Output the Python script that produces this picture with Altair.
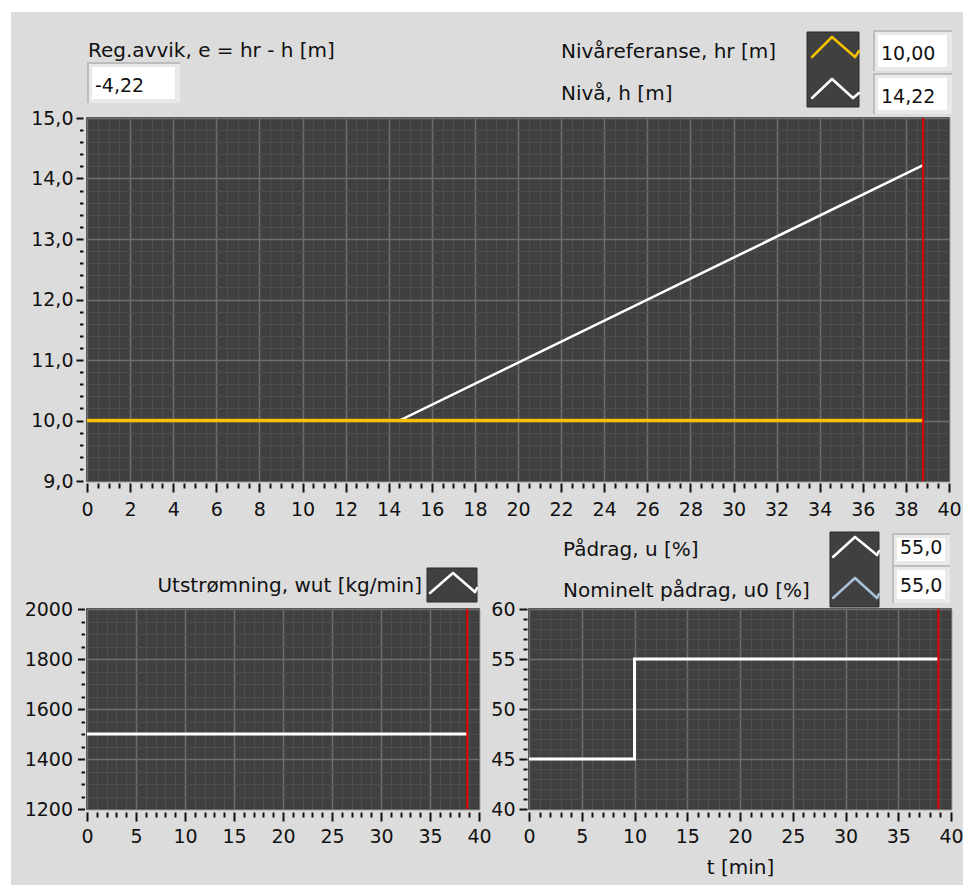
import altair as alt
import pandas as pd
import numpy as np

FONT = "DejaVu Sans"
INK = "#111111"
PANEL = "#dcdcdc"
PLOT_BG = "#404040"
GRID_MAJOR = "#6e6e6e"
GRID_MINOR = "#4e4e4e"
YELLOW = "#f7c000"
CURSOR = "#e80000"
U0_BLUE = "#a9c1d9"

# Level control simulation, time in minutes
t_level = [0.0, 14.5, 38.8]
level = [10.0, 10.0, 14.22]          # h [m]
t_ref = [0.0, 38.8]
level_ref = [10.0, 10.0]             # hr [m]
t_out = [0.0, 38.8]
outflow = [1500.0, 1500.0]           # wut [kg/min]
t_ctrl = [0.0, 10.0, 38.8]
control = [45.0, 55.0, 55.0]         # u [%]
control_nominal = 55.0               # u0 [%]
t_now = 38.8                         # current simulation time (cursor)

error_now = level_ref[-1] - level[-1]


def no(v, d):
    return f"{v:.{d}f}".replace(".", ",")


one = pd.DataFrame({"k": [0]})


def rect(x, x2, y, y2, fill, stroke=None, sw=1.0):
    kw = dict(fill=fill)
    if stroke:
        kw.update(stroke=stroke, strokeWidth=sw)
    return alt.Chart(one).mark_rect(**kw).encode(
        x=alt.value(x), x2=alt.value(x2), y=alt.value(y), y2=alt.value(y2))


def text(s, x, y, align="left", size=20):
    return alt.Chart(one).mark_text(
        text=s, align=align, baseline="alphabetic", font=FONT,
        fontSize=size, color=INK).encode(x=alt.value(x), y=alt.value(y))


def zigzag(pts, color, width=2.5):
    out = []
    for (x1, y1), (x2, y2) in zip(pts[:-1], pts[1:]):
        out.append(alt.Chart(one).mark_rule(
            color=color, strokeWidth=width, strokeCap="round").encode(
            x=alt.value(x1), y=alt.value(y1), x2=alt.value(x2), y2=alt.value(y2)))
    return out


def indicator(x, x2, y, y2, s):
    return [
        rect(x, x2, y, y2, "#bdbdbd"),
        rect(x + 2, x2, y + 2, y2, "#e9e9e9"),
        rect(x + 5, x2 - 5, y + 5, y2 - 4, "white"),
        text(s, x + 8, y2 - 11, size=19),
    ]


def axis(values, every, fmt, offset, tmaj, tmin, pad, title=None):
    test = f"(abs(datum.value / {every} - round(datum.value / {every})) < 0.001)"

    def cond(a, b):
        return {"condition": {"test": test, "value": a}, "value": b}

    return alt.Axis(
        values=values, grid=True,
        gridColor=cond(GRID_MAJOR, GRID_MINOR), gridWidth=cond(1.5, 1),
        tickSize=cond(tmaj, tmin), tickColor=INK, tickWidth=2,
        labelExpr=f"{test} ? replace(format(datum.value, '{fmt}'), '.', ',') : ''",
        labelOverlap=False, labelFlush=False, offset=offset,
        labelPadding=pad, domain=False, title=title)


def steps(a, b, s):
    return [round(v, 3) for v in np.arange(a, b + s / 2, s)]


def series(t, v, scale_x, scale_y, ax_x, ax_y, **mark):
    return alt.Chart(pd.DataFrame({"t": t, "v": v})).mark_line(**mark).encode(
        x=alt.X("t:Q", scale=scale_x, axis=ax_x),
        y=alt.Y("v:Q", scale=scale_y, axis=ax_y))


def cursor(scale_x, ax_x):
    return alt.Chart(pd.DataFrame({"t": [t_now]})).mark_rule(
        color=CURSOR, strokeWidth=2).encode(x=alt.X("t:Q", scale=scale_x, axis=ax_x))


# ---------------- level chart ----------------
W_TOP, H_TOP = 862, 363
xs_top = alt.Scale(domain=[0, 40], nice=False, zero=False)
ys_top = alt.Scale(domain=[9, 15], nice=False, zero=False)
ax_x_top = axis(steps(0, 40, 0.5), 2, "d", 2, 9, 5, 8)
ax_y_top = axis(steps(9, 15, 0.2), 1, ".1f", 4, 7, 3.5, 3)

level_line = series(t_level, level, xs_top, ys_top, ax_x_top, ax_y_top,
                    color="white", strokeWidth=2.5)
ref_line = series(t_ref, level_ref, xs_top, ys_top, ax_x_top, ax_y_top,
                  color=YELLOW, strokeWidth=3.5)
cursor_top = cursor(xs_top, ax_x_top)

top_deco = [
    text("Reg.avvik, e = hr - h [m]", 1, -61),
    *indicator(0, 93, -56, -15, no(error_now, 2)),
    text("Nivåreferanse, hr [m]", 474, -60),
    text("Nivå, h [m]", 474, -18),
    rect(720, 772, -86, -11, PLOT_BG, "#2a2a2a", 1),
    *zigzag([(725, -61), (745, -81), (768, -61), (772, -67)], YELLOW),
    *zigzag([(725, -20), (745, -39), (766, -20), (772, -25)], "white"),
    *indicator(786, 865, -88, -47, no(level_ref[-1], 2)),
    *indicator(786, 865, -45, -4, no(level[-1], 2)),
]

top = alt.layer(level_line, ref_line, cursor_top, *top_deco).properties(
    width=W_TOP, height=H_TOP)

# ---------------- outflow chart ----------------
W_BL, H_B = 392, 200
xs_bl = alt.Scale(domain=[0, 40], nice=False, zero=False)
ys_bl = alt.Scale(domain=[1200, 2000], nice=False, zero=False)
ax_x_bl = axis(steps(0, 40, 1), 5, "d", 3, 9, 5, 6)
ax_y_bl = axis(steps(1200, 2000, 50), 200, "d", 2.5, 7, 3.5, 5)

out_line = series(t_out, outflow, xs_bl, ys_bl, ax_x_bl, ax_y_bl,
                  color="white", strokeWidth=3)
cursor_bl = cursor(xs_bl, ax_x_bl)

bl_deco = [
    text("Utstrømning, wut [kg/min]", 335, -17, align="right"),
    rect(340, 390, -41, -7, PLOT_BG, "#2a2a2a", 1),
    *zigzag([(343, -16), (366, -36), (388, -17), (390, -21)], "white"),
]
bl = alt.layer(out_line, cursor_bl, *bl_deco).properties(width=W_BL, height=H_B)

# ---------------- control signal chart ----------------
W_BR = 422
xs_br = alt.Scale(domain=[0, 40], nice=False, zero=False)
ys_br = alt.Scale(domain=[40, 60], nice=False, zero=False)
ax_x_br = axis(steps(0, 40, 1), 5, "d", 3, 9, 5, 6, title="t [min]")
ax_y_br = axis(steps(40, 60, 1), 5, "d", 2, 8, 4, 4)

u_line = series(t_ctrl, control, xs_br, ys_br, ax_x_br, ax_y_br,
                color="white", strokeWidth=3, interpolate="step-after")
cursor_br = cursor(xs_br, ax_x_br)

br_deco = [
    text("Pådrag, u [%]", 34, -53),
    text("Nominelt pådrag, u0 [%]", 34, -12),
    rect(301, 350, -77, -2, PLOT_BG, "#2a2a2a", 1),
    *zigzag([(304, -52), (326, -72), (348, -54), (350, -58)], "white"),
    *zigzag([(304, -11), (326, -31), (348, -11), (350, -15)], U0_BLUE),
    *indicator(363, 421, -76, -44, no(control[-1], 1)),
    *indicator(363, 421, -44, -6, no(control_nominal, 1)),
]
br = alt.layer(u_line, cursor_br, *br_deco).properties(width=W_BR, height=H_B)


# empty 1 px cells that push the panel grid to (87, 118) from the canvas corner
def blank(*extra):
    dot = alt.Chart(one).mark_point(opacity=0).encode(x=alt.value(0), y=alt.value(0))
    return alt.layer(dot, *extra).properties(
        width=1, height=1, view=alt.ViewBackground(fill="white", stroke="white"))


# white margin along the top and left edges of the canvas
corner = blank(
    rect(0, 963, 0, 12, "white"),
    rect(0, 11, 0, 885, "white"),
)

panels = alt.vconcat(
    top,
    alt.hconcat(bl, br, spacing=50, bounds="flush"),
    spacing=128, bounds="flush",
)

chart = alt.hconcat(
    corner,
    alt.vconcat(blank(), panels, spacing=117, bounds="flush"),
    spacing=86, bounds="flush",
).properties(
    autosize=alt.AutoSizeParams(type="none"),
    padding={"left": 0, "top": 0, "right": 963, "bottom": 885},
    background=PANEL,
).configure_view(
    fill=PLOT_BG, stroke="#262626", strokeWidth=1.5
).configure_axis(
    labelFont=FONT, labelFontSize=19, labelColor=INK,
    titleFont=FONT, titleFontSize=20, titleFontWeight="normal",
    titleColor=INK, titlePadding=11,
)

chart.save("out.html", embed_options={"renderer": "svg", "actions": False})
